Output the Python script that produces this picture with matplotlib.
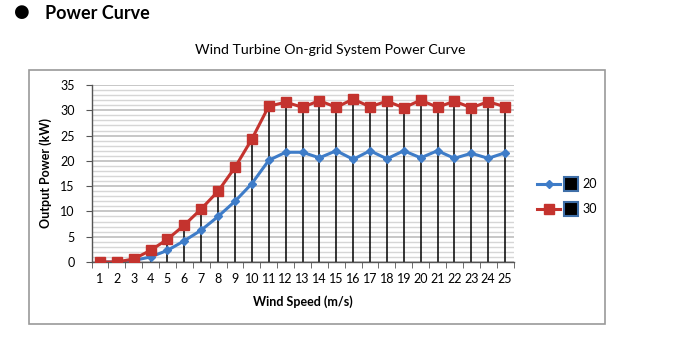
import matplotlib.pyplot as plt
from matplotlib.lines import Line2D
from matplotlib.patches import Rectangle
from matplotlib.legend_handler import HandlerTuple
from matplotlib.ticker import MultipleLocator, FixedLocator

plt.rcParams['font.family'] = ['Lato', 'DejaVu Sans']

wind_speed = list(range(1, 26))
power_20 = [0, 0, 0.3, 1.0, 2.3, 4.2, 6.3, 9.0, 12.0, 15.5, 20.1, 21.7, 21.7, 20.6,
            22.0, 20.3, 22.0, 20.4, 22.0, 20.6, 22.0, 20.5, 21.5, 20.5, 21.6]
power_30 = [0, 0, 0.6, 2.3, 4.5, 7.3, 10.5, 14.0, 18.7, 24.3, 30.8, 31.6, 30.6, 31.9,
            30.6, 32.2, 30.7, 31.8, 30.5, 32.0, 30.6, 31.8, 30.5, 31.7, 30.7]
series_labels = ['20', '30']

blue = '#3E7CC8'
red = '#C4332E'

fig = plt.figure(figsize=(6.95, 3.46), dpi=100)

# section heading
fig.text(22 / 695, 1 - 12 / 346, '\u25CF', fontsize=13, family='DejaVu Sans',
         ha='center', va='center')
fig.text(45 / 695, 1 - 13.5 / 346, 'Power Curve', fontsize=13, fontweight='bold',
         ha='left', va='center')

# chart frame
fig.add_artist(Rectangle((29 / 695, 22 / 346), 576 / 695, 254 / 346,
                         transform=fig.transFigure, fill=False,
                         edgecolor='#9A9A9A', lw=1.2))
fig.text(330 / 695, 1 - 50 / 346, 'Wind Turbine On-grid System Power Curve',
         fontsize=10.2, ha='center', va='center')

ax = fig.add_axes([91.5 / 695, 84 / 346, 422 / 695, 177 / 346])
ax.set_xlim(0.5, 25.5)
ax.set_ylim(0, 35)

ax.yaxis.set_major_locator(MultipleLocator(5))
ax.yaxis.set_minor_locator(MultipleLocator(1))
ax.grid(which='major', axis='y', color='#BDBDBD', lw=1.2)
ax.grid(which='minor', axis='y', color='#D6D6D6', lw=1.0)
ax.set_axisbelow(True)

# drop lines from the axis to the higher curve
tops = [max(a, b) for a, b in zip(power_20, power_30)]
ax.vlines(wind_speed, 0, tops, color='black', lw=1.1, zorder=2)

ax.plot(wind_speed, power_20, color=blue, lw=2.2, marker='D', markersize=4.5,
        zorder=3)
ax.plot(wind_speed, power_30, color=red, lw=2.2, marker='s', markersize=6.5,
        zorder=4)

ax.xaxis.set_major_locator(FixedLocator(wind_speed))
ax.xaxis.set_minor_locator(FixedLocator([x + 0.5 for x in range(0, 26)]))
ax.tick_params(axis='x', which='major', length=0, labelsize=9, pad=8)
ax.tick_params(axis='x', which='minor', length=4, color='#555555')
ax.tick_params(axis='y', which='major', length=4, labelsize=9, pad=8,
               color='#555555')
ax.tick_params(axis='y', which='minor', length=0)

for side in ['top', 'right']:
    ax.spines[side].set_visible(False)
for side in ['left', 'bottom']:
    ax.spines[side].set_color('#555555')
    ax.spines[side].set_linewidth(1.0)

ax.set_xlabel('Wind Speed (m/s)', fontsize=9, fontweight='bold', labelpad=7)
ax.set_ylabel('Output Power (kW)', fontsize=9, fontweight='bold', labelpad=6)

handles = []
for color, marker, size in [(blue, 'D', 4.5), (red, 's', 6.5)]:
    line = Line2D([], [], color=color, lw=2.2, marker=marker, markersize=size)
    box = Line2D([], [], ls='none', marker='s', markersize=10,
                 markerfacecolor='black', markeredgecolor='#3F6FA8',
                 markeredgewidth=1.5)
    handles.append((line, box))

fig.legend(handles, series_labels, loc='center left',
           bbox_to_anchor=(526 / 695, 1 - 196.5 / 346), frameon=False,
           handler_map={tuple: HandlerTuple(ndivide=2, pad=0.0)},
           handlelength=3.6, handletextpad=0.0, labelspacing=1.05, fontsize=9)

fig.savefig('out.png', dpi=100)
